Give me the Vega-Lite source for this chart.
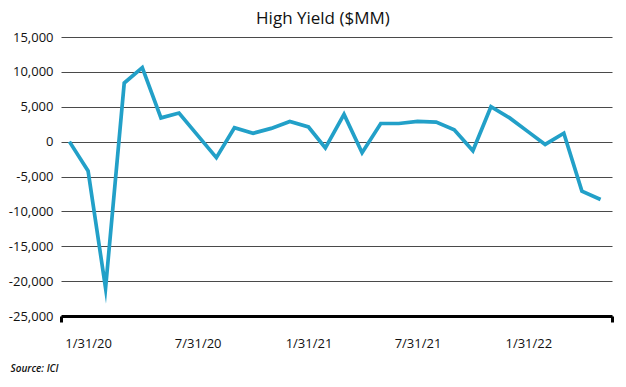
{
  "$schema": "https://vega.github.io/schema/vega-lite/v6.json",
  "width": 551,
  "height": 279,
  "autosize": {"type": "none"},
  "padding": {"left": 61, "top": 37, "right": 14, "bottom": 71},
  "background": "white",
  "config": {"view": {"stroke": null}, "font": "Open Sans"},
  "title": {"text": "High Yield ($MM)", "fontSize": 17, "fontWeight": "normal", "font": "Open Sans", "color": "#111111", "anchor": "middle", "frame": "bounds", "offset": 3},
  "data": {"values": [
    {"date": "2019-12-31", "value": 0},
    {"date": "2020-01-31", "value": -4200},
    {"date": "2020-02-29", "value": -21000},
    {"date": "2020-03-31", "value": 8400},
    {"date": "2020-04-30", "value": 10600},
    {"date": "2020-05-31", "value": 3400},
    {"date": "2020-06-30", "value": 4100},
    {"date": "2020-07-31", "value": 900},
    {"date": "2020-08-31", "value": -2300},
    {"date": "2020-09-30", "value": 2000},
    {"date": "2020-10-31", "value": 1200},
    {"date": "2020-11-30", "value": 1900},
    {"date": "2020-12-31", "value": 2900},
    {"date": "2021-01-31", "value": 2100},
    {"date": "2021-02-28", "value": -900},
    {"date": "2021-03-31", "value": 3900},
    {"date": "2021-04-30", "value": -1600},
    {"date": "2021-05-31", "value": 2600},
    {"date": "2021-06-30", "value": 2600},
    {"date": "2021-07-31", "value": 2900},
    {"date": "2021-08-31", "value": 2800},
    {"date": "2021-09-30", "value": 1700},
    {"date": "2021-10-31", "value": -1300},
    {"date": "2021-11-30", "value": 5000},
    {"date": "2021-12-31", "value": 3400},
    {"date": "2022-01-31", "value": 1400},
    {"date": "2022-02-28", "value": -400},
    {"date": "2022-03-31", "value": 1200},
    {"date": "2022-04-30", "value": -7100},
    {"date": "2022-05-31", "value": -8300}
  ]},
  "mark": {"type": "line", "color": "#22a0c8", "strokeWidth": 3.7, "strokeJoin": "miter", "strokeMiterLimit": 20},
  "encoding": {
    "x": {
      "field": "date",
      "type": "temporal",
      "scale": {"type": "utc", "domain": [{"year": 2019, "month": 12, "date": 17, "utc": true}, {"year": 2022, "month": 6, "date": 19, "utc": true}]},
      "axis": {
        "values": [
          {"year": 2019, "month": 12, "date": 17, "utc": true},
          {"year": 2020, "month": 1, "date": 31, "utc": true},
          {"year": 2020, "month": 7, "date": 31, "utc": true},
          {"year": 2021, "month": 1, "date": 31, "utc": true},
          {"year": 2021, "month": 7, "date": 31, "utc": true},
          {"year": 2022, "month": 1, "date": 31, "utc": true},
          {"year": 2022, "month": 6, "date": 19, "utc": true}
        ],
        "labelExpr": "datum.value < utc(2020,0,1) || datum.value > utc(2022,5,1) ? '' : utcFormat(datum.value, '%-m/%d/%y')",
        "labelOverlap": false,
        "labelFlush": false,
        "grid": false,
        "domainColor": "#000000",
        "domainWidth": 3,
        "tickColor": "#000000",
        "tickWidth": 3,
        "tickSize": 6,
        "tickOpacity": {"condition": {"test": "datum.value < utc(2020,0,1) || datum.value > utc(2022,5,1)", "value": 1}, "value": 0},
        "labelFontSize": 13,
        "labelColor": "#111111",
        "labelPadding": 15,
        "title": "Source: ICI",
        "titleAnchor": "start",
        "titleAlign": "left",
        "titleX": -51,
        "titleY": 52,
        "titleBaseline": "middle",
        "titleFontSize": 10,
        "titleFontStyle": "italic",
        "titleFontWeight": 600,
        "titleColor": "#111111"
      }
    },
    "y": {
      "field": "value",
      "type": "quantitative",
      "scale": {"domain": [-25000, 15000], "nice": false, "zero": false},
      "axis": {
        "values": [-25000, -20000, -15000, -10000, -5000, 0, 5000, 10000, 15000],
        "labelExpr": "replace(format(datum.value, ','), '−', '-')",
        "domain": false,
        "ticks": false,
        "grid": true,
        "gridColor": "#4a4a4a",
        "gridWidth": 1,
        "labelFontSize": 13,
        "labelColor": "#111111",
        "labelPadding": 8,
        "title": null
      }
    }
  }
}
